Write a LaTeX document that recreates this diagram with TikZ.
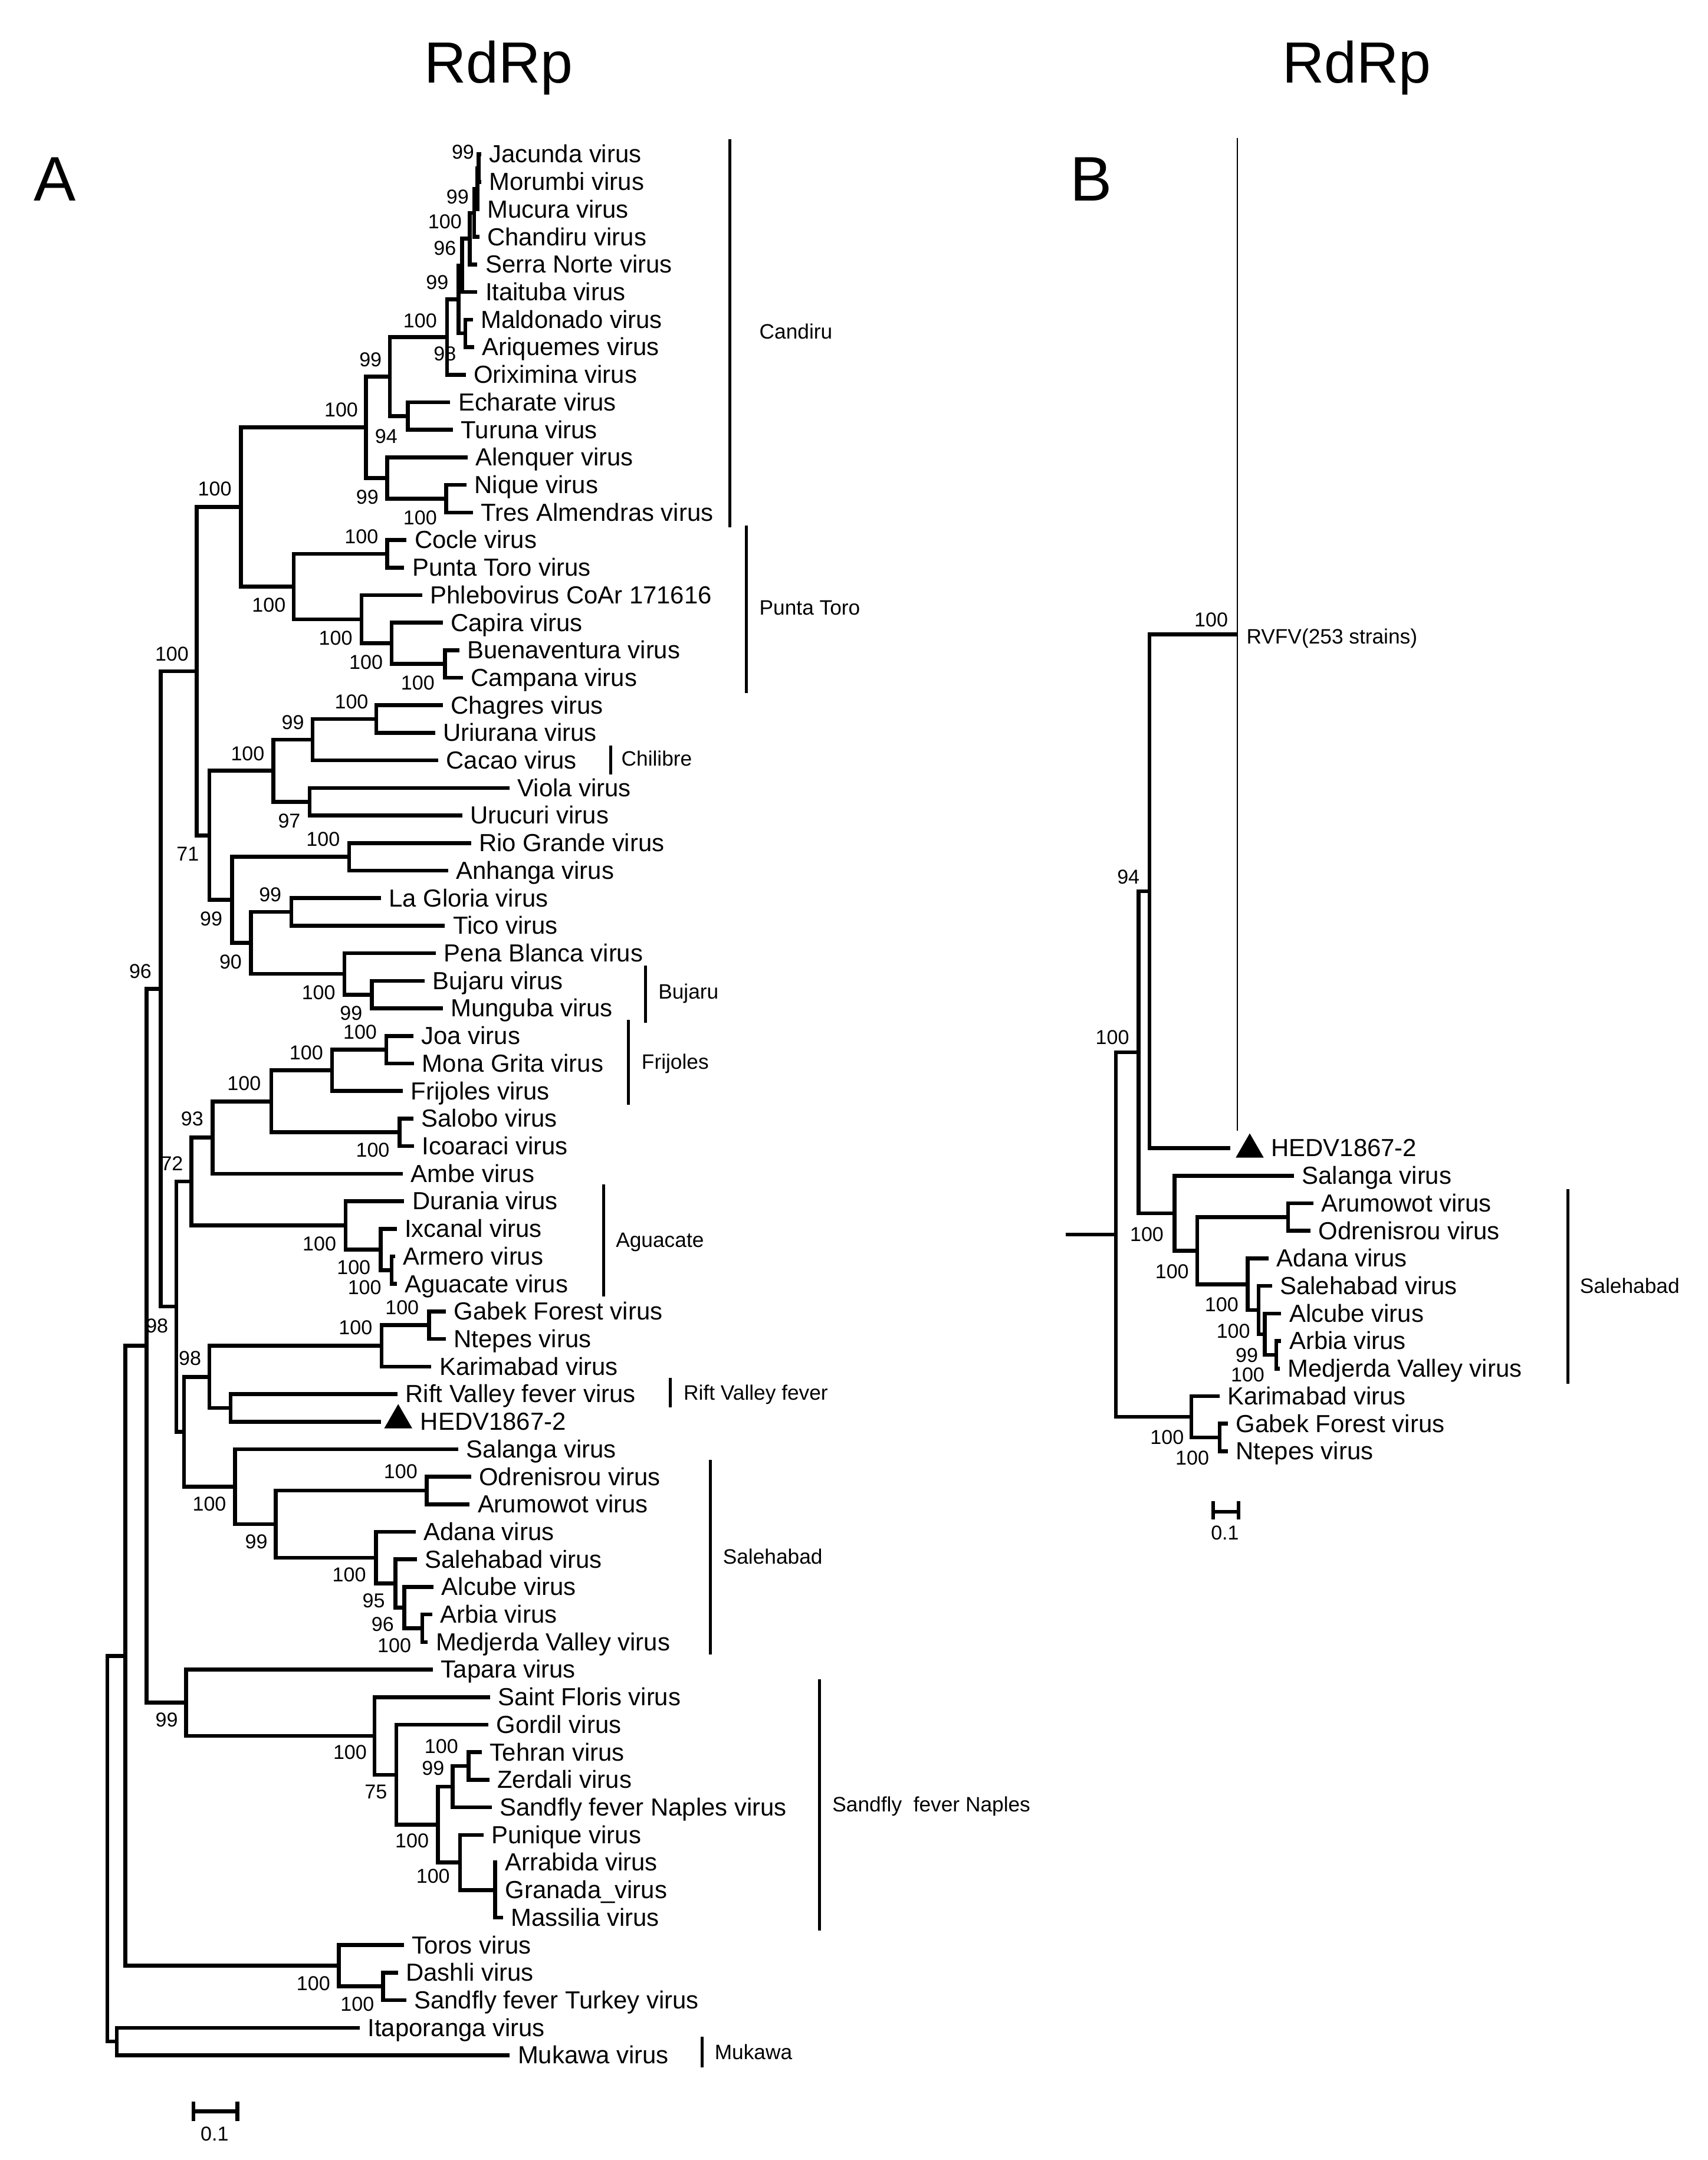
\documentclass[tikz,border=0pt]{standalone}
\usepackage{fontspec}
\setmainfont{Liberation Sans}
\usepackage{tikz}
\usetikzlibrary{shapes.geometric}
\tikzset{
  br/.style={line width=1.6pt},
  thinbr/.style={line width=0.6pt},
  clbar/.style={line width=1.2pt},
  leaf/.style={anchor=west, inner xsep=1.1mm, inner ysep=0pt, text height=7pt, text depth=0pt, font=\fontsize{10.2}{12}\selectfont},
  boot/.style={inner sep=0pt, font=\fontsize{8.3}{10}\selectfont},
  clade/.style={anchor=west, inner sep=0pt, text height=5.9pt, text depth=0pt, font=\fontsize{8.6}{10}\selectfont},
  title/.style={anchor=base, inner sep=0pt, font=\fontsize{24}{28}\selectfont},
  panel/.style={anchor=base, inner sep=0pt, font=\fontsize{26}{30}\selectfont},
  tri/.style={regular polygon, regular polygon sides=3, fill=black, inner sep=0pt, minimum size=4.7mm},
}

\begin{document}
\begin{tikzpicture}[x=0.2mm,y=-0.2mm]
    \useasboundingbox (0,0) rectangle (1240,1568);

    % Titles
    \node[title] (ttlA) at (362,60) {RdRp};
    \node[title] (ttlB) at (985,60) {RdRp};
    \node[panel] (pA) at (40,146) {A};
    \node[panel] (pB) at (792,146) {B};

    % Leaves A
    \node[leaf] (jac) at (349.2,112) {Jacunda virus};
    \node[leaf] (mor) at (349.2,132) {Morumbi virus};
    \node[leaf] (muc) at (347.9,152) {Mucura virus};
    \node[leaf] (cha) at (347.9,172) {Chandiru virus};
    \node[leaf] (ser) at (346.6,192) {Serra Norte virus};
    \node[leaf] (ita) at (346.6,212) {Itaituba virus};
    \node[leaf] (mal) at (343.3,232) {Maldonado virus};
    \node[leaf] (ari) at (344.3,252) {Ariquemes virus};
    \node[leaf] (ori) at (338.1,272) {Oriximina virus};
    \node[leaf] (ech) at (326.9,292) {Echarate virus};
    \node[leaf] (tur) at (328.9,312) {Turuna virus};
    \node[leaf] (ale) at (339.4,332) {Alenquer virus};
    \node[leaf] (niq) at (338.7,352) {Nique virus};
    \node[leaf] (tre) at (343.3,372) {Tres Almendras virus};
    \node[leaf] (coc) at (295.2,392) {Cocle virus};
    \node[leaf] (pun) at (293.5,412) {Punta Toro virus};
    \node[leaf] (phl) at (306.6,432) {Phlebovirus CoAr 171616};
    \node[leaf] (cap) at (321.4,452) {Capira virus};
    \node[leaf] (bue) at (333.5,472) {Buenaventura virus};
    \node[leaf] (cam) at (336.1,492) {Campana virus};
    \node[leaf] (chg) at (321.4,512) {Chagres virus};
    \node[leaf] (uri) at (315.8,532) {Uriurana virus};
    \node[leaf] (cac) at (318.1,552) {Cacao virus};
    \node[leaf] (vio) at (369.9,572) {Viola virus};
    \node[leaf] (uru) at (335.5,592) {Urucuri virus};
    \node[leaf] (rio) at (342,612) {Rio Grande virus};
    \node[leaf] (anh) at (325.3,632) {Anhanga virus};
    \node[leaf] (lag) at (276.5,652) {La Gloria virus};
    \node[leaf] (tic) at (323,672) {Tico virus};
    \node[leaf] (pen) at (316.5,692) {Pena Blanca virus};
    \node[leaf] (buj) at (308.3,712) {Bujaru virus};
    \node[leaf] (mun) at (321.4,732) {Munguba virus};
    \node[leaf] (joa) at (300.1,752) {Joa virus};
    \node[leaf] (mon) at (300.7,772) {Mona Grita virus};
    \node[leaf] (fri) at (292.5,792) {Frijoles virus};
    \node[leaf] (slb) at (300.1,812) {Salobo virus};
    \node[leaf] (ico) at (300.7,832) {Icoaraci virus};
    \node[leaf] (amb) at (292.5,852) {Ambe virus};
    \node[leaf] (dur) at (293.5,872) {Durania virus};
    \node[leaf] (ixc) at (288,892) {Ixcanal virus};
    \node[leaf] (arm) at (287,912) {Armero virus};
    \node[leaf] (agu) at (288,932) {Aguacate virus};
    \node[leaf] (gab) at (323.7,952) {Gabek Forest virus};
    \node[leaf] (nte) at (323.7,972) {Ntepes virus};
    \node[leaf] (kar) at (313.2,992) {Karimabad virus};
    \node[leaf] (rvf) at (288.6,1012) {Rift Valley fever virus};
    \coordinate (hed) at (276.5,1032);
    \node[tri] (triA) at (289.1,1031) {};
    \node[leaf] (hedtxt) at (299.4,1032) {HEDV1867-2};
    \node[leaf] (sla) at (332.8,1052) {Salanga virus};
    \node[leaf] (odr) at (342,1072) {Odrenisrou virus};
    \node[leaf] (aru) at (341,1092) {Arumowot virus};
    \node[leaf] (ada) at (301.7,1112) {Adana virus};
    \node[leaf] (seh) at (302.7,1132) {Salehabad virus};
    \node[leaf] (alc) at (314.8,1152) {Alcube virus};
    \node[leaf] (arb) at (313.8,1172) {Arbia virus};
    \node[leaf] (med) at (310.6,1192) {Medjerda Valley virus};
    \node[leaf] (tap) at (314.4,1212) {Tapara virus};
    \node[leaf] (sfl) at (355.9,1232) {Saint Floris virus};
    \node[leaf] (gor) at (354.5,1252) {Gordil virus};
    \node[leaf] (teh) at (349.9,1272) {Tehran virus};
    \node[leaf] (zer) at (355.2,1292) {Zerdali virus};
    \node[leaf] (sfn) at (357,1312) {Sandfly fever Naples virus};
    \node[leaf] (puq) at (351,1332) {Punique virus};
    \node[leaf] (arr) at (360.9,1352) {Arrabida virus};
    \node[leaf] (gra) at (360.9,1372) {Granada\_virus};
    \node[leaf] (mas) at (365.2,1392) {Massilia virus};
    \node[leaf] (tor) at (293.1,1412) {Toros virus};
    \node[leaf] (das) at (288.9,1432) {Dashli virus};
    \node[leaf] (sft) at (294.9,1452) {Sandfly fever Turkey virus};
    \node[leaf] (itp) at (261.2,1472) {Itaporanga virus};
    \node[leaf] (muk) at (370.1,1492) {Mukawa virus};

    % Inner nodes A
    \coordinate (g1) at (347.5,122);
    \coordinate (g2) at (346.5,137);
    \coordinate (g3) at (344.3,154.5);
    \coordinate (g4) at (341,173.3);
    \coordinate (g5) at (335.5,192.6);
    \coordinate (ma) at (337.8,242);
    \coordinate (g6) at (332.8,217.3);
    \coordinate (g7) at (324.6,244.7);
    \coordinate (et) at (296.1,302);
    \coordinate (g8) at (283,273.3);
    \coordinate (nt) at (324,362);
    \coordinate (an) at (281,347);
    \coordinate (can) at (265.7,310.2);
    \coordinate (cp) at (281,402);
    \coordinate (bc) at (323,482);
    \coordinate (cbc) at (284.3,467);
    \coordinate (pcb) at (262.4,449.5);
    \coordinate (ptr) at (213.3,425.8);
    \coordinate (cpt) at (174.9,368);
    \coordinate (cu) at (273.2,522);
    \coordinate (cuc) at (227,537);
    \coordinate (vu) at (224.7,582);
    \coordinate (chl) at (198.5,559.5);
    \coordinate (ra) at (253.5,622);
    \coordinate (lt) at (211.6,662);
    \coordinate (bm) at (269.9,722);
    \coordinate (pbm) at (250,707);
    \coordinate (lgp) at (182.1,684.5);
    \coordinate (rgw) at (168.4,653.3);
    \coordinate (chz) at (152,606.4);
    \coordinate (up2) at (142.8,487.2);
    \coordinate (jm) at (280.4,762);
    \coordinate (jmf) at (241.1,777);
    \coordinate (si) at (290.2,822);
    \coordinate (fr) at (196.9,799.5);
    \coordinate (fra) at (154.3,825.8);
    \coordinate (aa) at (284.3,922);
    \coordinate (iaa) at (276.5,907);
    \coordinate (daa) at (250.9,889.5);
    \coordinate (agc) at (138.9,857.6);
    \coordinate (gn) at (311.5,962);
    \coordinate (gnk) at (277.1,977);
    \coordinate (rh) at (167.4,1022);
    \coordinate (gkr) at (152,999.5);
    \coordinate (oa) at (309.9,1082);
    \coordinate (amd) at (306.6,1182);
    \coordinate (alam) at (293.5,1167);
    \coordinate (saal) at (287,1149.5);
    \coordinate (ads) at (272.9,1130.8);
    \coordinate (shb) at (200.2,1106.4);
    \coordinate (sls) at (170.7,1079.2);
    \coordinate (rvs) at (133.6,1039.3);
    \coordinate (fsal) at (128.1,948.5);
    \coordinate (up1) at (116.6,717.8);
    \coordinate (tz) at (340.3,1282);
    \coordinate (tzs) at (328.6,1297);
    \coordinate (agm) at (359.5,1372);
    \coordinate (pag) at (333.9,1352);
    \coordinate (np) at (318,1324.5);
    \coordinate (gnp) at (287.8,1288.3);
    \coordinate (sf) at (271.8,1260.2);
    \coordinate (tsn) at (135.2,1236);
    \coordinate (upo) at (106.5,977);
    \coordinate (ds) at (278.2,1442);
    \coordinate (td) at (245.9,1427);
    \coordinate (upn) at (91,1202);
    \coordinate (im) at (84.8,1482);
    \coordinate (root) at (78,1342);

    % Bootstrap A
    \node[boot] (bt1) at (336.1,110.4) {99};
    \node[boot] (bt2) at (332.2,142.9) {99};
    \node[boot] (bt3) at (323,161) {100};
    \node[boot] (bt4) at (323,180.2) {96};
    \node[boot] (bt5) at (317.4,205) {99};
    \node[boot] (bt6) at (305,232.7) {100};
    \node[boot] (bt7) at (323,256.6) {98};
    \node[boot] (bt8) at (269,261) {99};
    \node[boot] (bt9) at (247.7,297.7) {100};
    \node[boot] (bt10) at (280.4,316.8) {94};
    \node[boot] (bt11) at (266.7,360.8) {99};
    \node[boot] (bt12) at (305,376) {100};
    \node[boot] (bt13) at (155.9,355) {100};
    \node[boot] (bt14) at (262.4,389.6) {100};
    \node[boot] (bt15) at (195.2,439.3) {100};
    \node[boot] (bt16) at (243.7,463.2) {100};
    \node[boot] (bt17) at (265.7,480.8) {100};
    \node[boot] (bt18) at (303.3,495.7) {100};
    \node[boot] (bt19) at (124.8,474.6) {100};
    \node[boot] (bt20) at (255.2,509.4) {100};
    \node[boot] (bt21) at (212.6,524.3) {99};
    \node[boot] (bt22) at (179.8,546.9) {100};
    \node[boot] (bt23) at (210,596) {97};
    \node[boot] (bt24) at (234.6,609.4) {100};
    \node[boot] (bt25) at (136.3,619.9) {71};
    \node[boot] (bt26) at (196.2,649.6) {99};
    \node[boot] (bt27) at (153.3,666.8) {99};
    \node[boot] (bt28) at (167.4,698.4) {90};
    \node[boot] (bt29) at (101.9,705.1) {96};
    \node[boot] (bt30) at (231.3,720.7) {100};
    \node[boot] (bt31) at (254.9,735.6) {99};
    \node[boot] (bt32) at (261.4,749) {100};
    \node[boot] (bt33) at (222.4,764.3) {100};
    \node[boot] (bt34) at (177.2,786.3) {100};
    \node[boot] (bt35) at (139.5,812) {93};
    \node[boot] (bt36) at (270.6,835) {100};
    \node[boot] (bt37) at (124.8,844.6) {72};
    \node[boot] (bt38) at (231.9,902.9) {100};
    \node[boot] (bt39) at (256.8,920) {100};
    \node[boot] (bt40) at (264.7,934.4) {100};
    \node[boot] (bt41) at (291.9,949) {100};
    \node[boot] (bt42) at (114,962.3) {98};
    \node[boot] (bt43) at (258.1,963.9) {100};
    \node[boot] (bt44) at (137.9,986.2) {98};
    \node[boot] (bt45) at (290.9,1068.4) {100};
    \node[boot] (bt46) at (152,1091.9) {100};
    \node[boot] (bt47) at (186.1,1119) {99};
    \node[boot] (bt48) at (253.5,1143) {100};
    \node[boot] (bt49) at (271.3,1162) {95};
    \node[boot] (bt50) at (277.8,1179.2) {96};
    \node[boot] (bt51) at (286.3,1194.5) {100};
    \node[boot] (bt52) at (121,1248.4) {99};
    \node[boot] (bt53) at (254.1,1271.9) {100};
    \node[boot] (bt54) at (272.9,1300.9) {75};
    \node[boot] (bt55) at (320.4,1267.9) {100};
    \node[boot] (bt56) at (314.4,1283.7) {99};
    \node[boot] (bt57) at (299.1,1336.1) {100};
    \node[boot] (bt58) at (314.4,1362) {100};
    \node[boot] (bt59) at (227.5,1439.7) {100};
    \node[boot] (bt60) at (259.4,1455) {100};

    % Branches A
    \draw[br] (g1) |- (jac.west) (g1) |- (mor.west);
    \draw[br] (g2) |- (g1) (g2) |- (muc.west);
    \draw[br] (g3) |- (g2) (g3) |- (cha.west);
    \draw[br] (g4) |- (g3) (g4) |- (ser.west);
    \draw[br] (g5) |- (g4) (g5) |- (ita.west);
    \draw[br] (ma) |- (mal.west) (ma) |- (ari.west);
    \draw[br] (g6) |- (g5) (g6) |- (ma);
    \draw[br] (g7) |- (g6) (g7) |- (ori.west);
    \draw[br] (et) |- (ech.west) (et) |- (tur.west);
    \draw[br] (g8) |- (g7) (g8) |- (et);
    \draw[br] (nt) |- (niq.west) (nt) |- (tre.west);
    \draw[br] (an) |- (ale.west) (an) |- (nt);
    \draw[br] (can) |- (g8) (can) |- (an);
    \draw[br] (cp) |- (coc.west) (cp) |- (pun.west);
    \draw[br] (bc) |- (bue.west) (bc) |- (cam.west);
    \draw[br] (cbc) |- (cap.west) (cbc) |- (bc);
    \draw[br] (pcb) |- (phl.west) (pcb) |- (cbc);
    \draw[br] (ptr) |- (cp) (ptr) |- (pcb);
    \draw[br] (cpt) |- (can) (cpt) |- (ptr);
    \draw[br] (cu) |- (chg.west) (cu) |- (uri.west);
    \draw[br] (cuc) |- (cu) (cuc) |- (cac.west);
    \draw[br] (vu) |- (vio.west) (vu) |- (uru.west);
    \draw[br] (chl) |- (cuc) (chl) |- (vu);
    \draw[br] (ra) |- (rio.west) (ra) |- (anh.west);
    \draw[br] (lt) |- (lag.west) (lt) |- (tic.west);
    \draw[br] (bm) |- (buj.west) (bm) |- (mun.west);
    \draw[br] (pbm) |- (pen.west) (pbm) |- (bm);
    \draw[br] (lgp) |- (lt) (lgp) |- (pbm);
    \draw[br] (rgw) |- (ra) (rgw) |- (lgp);
    \draw[br] (chz) |- (chl) (chz) |- (rgw);
    \draw[br] (up2) |- (cpt) (up2) |- (chz);
    \draw[br] (jm) |- (joa.west) (jm) |- (mon.west);
    \draw[br] (jmf) |- (jm) (jmf) |- (fri.west);
    \draw[br] (si) |- (slb.west) (si) |- (ico.west);
    \draw[br] (fr) |- (jmf) (fr) |- (si);
    \draw[br] (fra) |- (fr) (fra) |- (amb.west);
    \draw[br] (aa) |- (arm.west) (aa) |- (agu.west);
    \draw[br] (iaa) |- (ixc.west) (iaa) |- (aa);
    \draw[br] (daa) |- (dur.west) (daa) |- (iaa);
    \draw[br] (agc) |- (fra) (agc) |- (daa);
    \draw[br] (gn) |- (gab.west) (gn) |- (nte.west);
    \draw[br] (gnk) |- (gn) (gnk) |- (kar.west);
    \draw[br] (rh) |- (rvf.west) (rh) |- (hed);
    \draw[br] (gkr) |- (gnk) (gkr) |- (rh);
    \draw[br] (oa) |- (odr.west) (oa) |- (aru.west);
    \draw[br] (amd) |- (arb.west) (amd) |- (med.west);
    \draw[br] (alam) |- (alc.west) (alam) |- (amd);
    \draw[br] (saal) |- (seh.west) (saal) |- (alam);
    \draw[br] (ads) |- (ada.west) (ads) |- (saal);
    \draw[br] (shb) |- (oa) (shb) |- (ads);
    \draw[br] (sls) |- (sla.west) (sls) |- (shb);
    \draw[br] (rvs) |- (gkr) (rvs) |- (sls);
    \draw[br] (fsal) |- (agc) (fsal) |- (rvs);
    \draw[br] (up1) |- (up2) (up1) |- (fsal);
    \draw[br] (tz) |- (teh.west) (tz) |- (zer.west);
    \draw[br] (tzs) |- (tz) (tzs) |- (sfn.west);
    \draw[br] (agm) |- (arr.west) (agm) |- (gra.west) (agm) |- (mas.west);
    \draw[br] (pag) |- (puq.west) (pag) |- (agm);
    \draw[br] (np) |- (tzs) (np) |- (pag);
    \draw[br] (gnp) |- (gor.west) (gnp) |- (np);
    \draw[br] (sf) |- (sfl.west) (sf) |- (gnp);
    \draw[br] (tsn) |- (tap.west) (tsn) |- (sf);
    \draw[br] (upo) |- (up1) (upo) |- (tsn);
    \draw[br] (ds) |- (das.west) (ds) |- (sft.west);
    \draw[br] (td) |- (tor.west) (td) |- (ds);
    \draw[br] (upn) |- (upo) (upn) |- (td);
    \draw[br] (im) |- (itp.west) (im) |- (muk.west);
    \draw[br] (root) |- (upn) (root) |- (im);

    % Clades A
    \draw[clbar] (530,101) -- (530,383);
    \node[clade] (cCan) at (551,241) {Candiru};
    \draw[clbar] (541.8,381.4) -- (541.8,502.9);
    \node[clade] (cPun) at (551,441) {Punta Toro};
    \draw[clbar] (443.2,541.1) -- (443.2,562.2);
    \node[clade] (cChi) at (450.8,551) {Chilibre};
    \draw[clbar] (468.8,700.9) -- (468.8,742.3);
    \node[clade] (cBuj) at (477.6,720) {Bujaru};
    \draw[clbar] (456.3,740.4) -- (456.3,802.1);
    \node[clade] (cFri) at (465.5,771) {Frijoles};
    \draw[clbar] (438.3,859.9) -- (438.3,941.3);
    \node[clade] (cAgu) at (446.8,900) {Aguacate};
    \draw[clbar] (486.8,1000.2) -- (486.8,1021.6);
    \node[clade] (cRvf) at (496,1011) {Rift Valley fever};
    \draw[clbar] (515.6,1059.8) -- (515.6,1201.2);
    \node[clade] (cSeh) at (524.5,1130) {Salehabad};
    \draw[clbar] (594.8,1219.2) -- (594.8,1401.3);
    \node[clade] (cSfn) at (604,1310) {Sandfly\ \ fever Naples};
    \draw[clbar] (509.6,1478.5) -- (509.6,1500.9);
    \node[clade] (cMuk) at (518.5,1490) {Mukawa};

    % Scale A
    \draw[br] (140.5,1525.6) -- (140.5,1539.7) (140.5,1532.6) -- (172.4,1532.6) (172.4,1525.6) -- (172.4,1539.7);
    \node[boot] (sclA) at (155.8,1549) {0.1};

    % Leaves B
    \coordinate (bhed) at (893,833.5);
    \node[tri] (triB) at (907.3,834.5) {};
    \node[leaf] (bhedtxt) at (917.1,833.5) {HEDV1867-2};
    \node[leaf] (bsla) at (939.4,853.5) {Salanga virus};
    \node[leaf] (baru) at (953.4,873.5) {Arumowot virus};
    \node[leaf] (bodr) at (951.5,893.5) {Odrenisrou virus};
    \node[leaf] (bada) at (921.1,913.5) {Adana virus};
    \node[leaf] (bseh) at (923.5,933.5) {Salehabad virus};
    \node[leaf] (balc) at (930.2,953.5) {Alcube virus};
    \node[leaf] (barb) at (930.2,973.5) {Arbia virus};
    \node[leaf] (bmed) at (929,993.5) {Medjerda Valley virus};
    \node[leaf] (bkar) at (885.4,1013.5) {Karimabad virus};
    \node[leaf] (bgab) at (891.5,1033.5) {Gabek Forest virus};
    \node[leaf] (bnte) at (891.5,1053.5) {Ntepes virus};
    \coordinate (rvtop) at (898.2,100);
    \coordinate (rvbot) at (898.2,821);
    \coordinate (brvf) at (898.2,460.5);
    \node[clade] (rvfvB) at (904.6,462) {RVFV(253 strains)};

    % Inner nodes B
    \coordinate (bam) at (926.5,983.5);
    \coordinate (balr) at (918.3,968.5);
    \coordinate (bsar) at (913.7,951);
    \coordinate (bads) at (905.8,932.3);
    \coordinate (bao) at (935.1,883.5);
    \coordinate (bshb) at (869.2,907.9);
    \coordinate (bu) at (852.8,880.7);
    \coordinate (brh) at (834.5,647);
    \coordinate (bv) at (826.5,763.9);
    \coordinate (bgn) at (885.4,1043.5);
    \coordinate (bkg) at (864.9,1028.5);
    \coordinate (broot) at (810.2,896.2);
    \coordinate (bstub) at (773.5,896.2);

    % Bootstrap B
    \node[boot] (bb1) at (879.3,449.8) {100};
    \node[boot] (bb2) at (819.2,636.8) {94};
    \node[boot] (bb3) at (807.6,752.9) {100};
    \node[boot] (bb4) at (832.6,896.1) {100};
    \node[boot] (bb5) at (850.9,922.9) {100};
    \node[boot] (bb6) at (886.9,947) {100};
    \node[boot] (bb7) at (895.4,966.1) {100};
    \node[boot] (bb8) at (905.2,983.7) {99};
    \node[boot] (bb9) at (905.8,998) {100};
    \node[boot] (bb10) at (847.3,1043.3) {100};
    \node[boot] (bb11) at (865.6,1058.2) {100};

    % Branches B
    \draw[thinbr] (rvtop) -- (rvbot);
    \draw[br] (bam) |- (barb.west) (bam) |- (bmed.west);
    \draw[br] (balr) |- (balc.west) (balr) |- (bam);
    \draw[br] (bsar) |- (bseh.west) (bsar) |- (balr);
    \draw[br] (bads) |- (bada.west) (bads) |- (bsar);
    \draw[br] (bao) |- (baru.west) (bao) |- (bodr.west);
    \draw[br] (bshb) |- (bao) (bshb) |- (bads);
    \draw[br] (bu) |- (bsla.west) (bu) |- (bshb);
    \draw[br] (brh) |- (brvf) (brh) |- (bhed);
    \draw[br] (bv) |- (brh) (bv) |- (bu);
    \draw[br] (bgn) |- (bgab.west) (bgn) |- (bnte.west);
    \draw[br] (bkg) |- (bkar.west) (bkg) |- (bgn);
    \draw[br] (broot) |- (bv) (broot) |- (bkg);
    \draw[br] (bstub) -- (broot);

    % Clade B
    \draw[clbar] (1138.4,863.3) -- (1138.4,1004.7);
    \node[clade] (cSehB) at (1146.7,933.6) {Salehabad};

    % Scale B
    \draw[br] (880.8,1089.7) -- (880.8,1103.1) (880.8,1097.4) -- (899.1,1097.4) (899.1,1089.7) -- (899.1,1103.1);
    \node[boot] (sclB) at (889.3,1112.6) {0.1};
\end{tikzpicture}
\end{document}
